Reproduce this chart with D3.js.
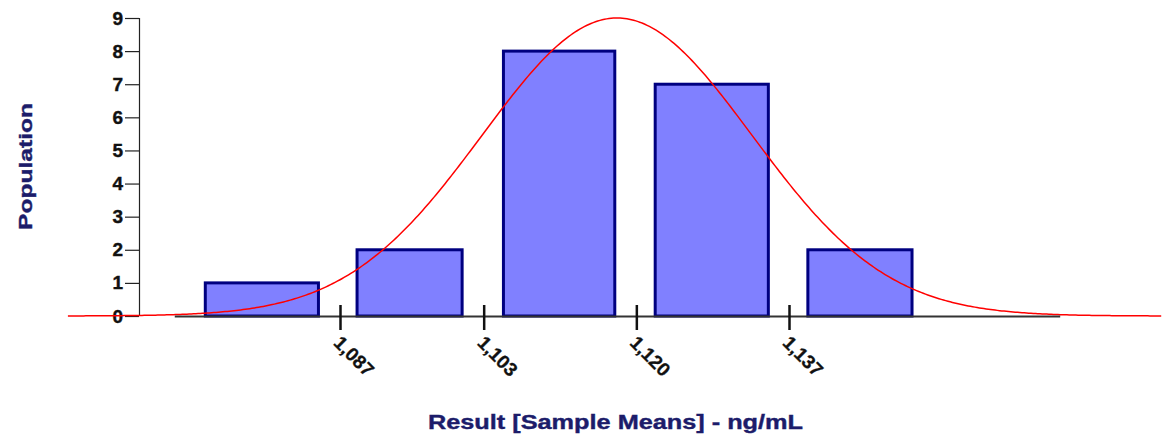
<!DOCTYPE html>
<html>
<head>
<meta charset="utf-8">
<script src="https://cdn.jsdelivr.net/npm/d3@7"></script>
<style>
  html, body { margin: 0; padding: 0; background: #ffffff; }
  svg { display: block; }
  text { font-family: "Liberation Sans", Arial, sans-serif; font-weight: bold; }
</style>
</head>
<body>
<svg id="chart" width="1162" height="443"></svg>
<script>
// ---- data ----
const counts = [1, 2, 8, 7, 2];
const barLo = [1072.0, 1088.9, 1105.2, 1122.1, 1139.1];
const barHi = [1084.6, 1100.6, 1117.6, 1134.7, 1150.7];
const xTickValues = [1087, 1103, 1120, 1137];
const yTickValues = [0, 1, 2, 3, 4, 5, 6, 7, 8, 9];
const curveMean = 1117.85;
const curveSD = 15.03;
const curvePeak = 9;
const curveRange = [1056.7, 1178.5];
const baselineRange = [1068.6, 1167.2];
const xTitle = "Result [Sample Means] - ng/mL";
const yTitle = "Population";

// ---- layout ----
const svg = d3.select("#chart");
const x = d3.scaleLinear().domain([1087, 1137]).range([340, 789]);
const y = d3.scaleLinear().domain([0, 9]).range([316, 18]);
const axisX = 139;
const navy = "#1c1c6a";

// y axis
const yAxis = svg.append("g")
  .attr("transform", `translate(${axisX},0)`)
  .call(d3.axisLeft(y).tickValues(yTickValues).tickSize(14).tickPadding(2).tickFormat(d3.format("d")));
yAxis.attr("font-size", null).attr("font-family", null);
yAxis.select(".domain").attr("stroke", "#222").attr("stroke-width", 1.2).attr("d", `M0.5,${y(9)}V${y(0)}`);
yAxis.selectAll(".tick line").attr("stroke", "#222").attr("stroke-width", 1.2);
yAxis.selectAll(".tick text")
  .style("font-size", "19px").attr("fill", "#111")
  .attr("stroke", "#111").attr("stroke-width", 0.4)
  .style("font-family", "'Liberation Sans', Arial, sans-serif").style("font-weight", "bold");

// bars
svg.append("g").selectAll("rect").data(counts).join("rect")
  .attr("x", (d, i) => x(barLo[i]))
  .attr("width", (d, i) => x(barHi[i]) - x(barLo[i]))
  .attr("y", d => y(d))
  .attr("height", d => y(0) - y(d))
  .attr("fill", "#8080ff")
  .attr("stroke", "#000080")
  .attr("stroke-width", 3);

// normal curve
const curvePts = d3.range(curveRange[0], curveRange[1] + 0.01, 0.25);
const line = d3.line()
  .x(v => x(v))
  .y(v => y(curvePeak * Math.exp(-Math.pow(v - curveMean, 2) / (2 * curveSD * curveSD))));
svg.append("path").datum(curvePts)
  .attr("d", line)
  .attr("fill", "none")
  .attr("stroke", "#ff0000")
  .attr("stroke-width", 1.5);

// baseline (x axis)
svg.append("line")
  .attr("x1", x(baselineRange[0])).attr("x2", x(baselineRange[1]))
  .attr("y1", y(0) + 0.5).attr("y2", y(0) + 0.5)
  .attr("stroke", "#333").attr("stroke-width", 2);

// x ticks + labels
const xAxis = svg.append("g")
  .attr("transform", `translate(0,${y(0)})`)
  .call(d3.axisBottom(x).tickValues(xTickValues).tickSize(0).tickFormat(d3.format(",")));
xAxis.attr("font-size", null).attr("font-family", null);
xAxis.select(".domain").remove();
xAxis.selectAll(".tick line")
  .attr("y1", -11).attr("y2", 14)
  .attr("stroke", "#111").attr("stroke-width", 2.5);
xAxis.selectAll(".tick text")
  .attr("text-anchor", "start")
  .attr("dy", 0).attr("y", 0)
  .attr("transform", "translate(-8,28) rotate(45)")
  .style("font-size", "19px").attr("fill", "#111")
  .attr("stroke", "#111").attr("stroke-width", 0.3)
  .style("font-family", "'Liberation Sans', Arial, sans-serif").style("font-weight", "bold");

// titles
svg.append("text")
  .attr("x", 615.5).attr("y", 429)
  .attr("text-anchor", "middle")
  .style("font-size", "21px")
  .attr("fill", navy)
  .attr("stroke", navy).attr("stroke-width", 0.4)
  .attr("textLength", 375).attr("lengthAdjust", "spacingAndGlyphs")
  .text(xTitle);

svg.append("text")
  .attr("transform", "translate(32,166.5) rotate(-90)")
  .attr("text-anchor", "middle")
  .style("font-size", "19px")
  .attr("fill", navy)
  .attr("stroke", navy).attr("stroke-width", 0.4)
  .attr("textLength", 127).attr("lengthAdjust", "spacingAndGlyphs")
  .text(yTitle);
</script>
</body>
</html>
